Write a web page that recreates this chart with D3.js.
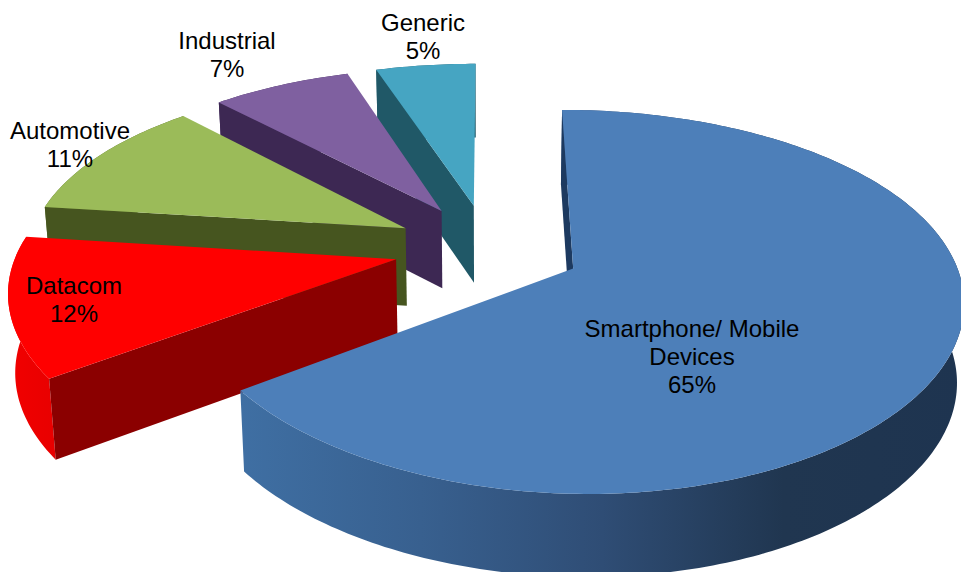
<!DOCTYPE html>
<html>
<head>
<meta charset="utf-8">
<script src="https://cdn.jsdelivr.net/npm/d3@7/dist/d3.min.js"></script>
<style>
  html, body { margin: 0; padding: 0; background: #fff; }
  svg { display: block; }
  text { font-family: "Liberation Sans", Arial, sans-serif; font-size: 24px; fill: #000; }
</style>
</head>
<body>
<svg id="chart" width="961" height="572"></svg>
<script>
// Market share by application segment
const categories = ["Smartphone/ Mobile Devices", "Datacom", "Automotive", "Industrial", "Generic"];
const shares = [65, 12, 11, 7, 5];
const labelLines = [["Smartphone/ Mobile", "Devices", "65%"], ["Datacom", "12%"], ["Automotive", "11%"], ["Industrial", "7%"], ["Generic", "5%"]];
const labelCentres = [[692, 328], [74, 285], [70, 130], [227, 40], [423, 22]];

// Face colours per segment
const topColours = ["#4d7fb9", "#ff0000", "#9bbb59", "#7f60a0", "#46a5c2"];
const edgeColours = ["#1d3a60", "#8b0000", "#46551f", "#3d2853", "#205867"];
const rimStops = [
  ["#3f6fa3", "#38608f", "#2f4d75", "#203650", "#1e3450"],
  ["#f20000", "#e80000"],
  ["#5a7029", "#4f6228"],
  ["#46305f", "#3f2a55"],
  ["#256474", "#205867"]
];

// Perspective model of the tilted disc
const origin = { x: 488, y: 248 };
const radius = 378, explode = 94, thickness = 78;
const foreshorten = 0.474, perspective = 0.00045, perspectiveX = 0.00039, converge = 0.015;

const pie = d3.pie().sort(null);
const arcs = pie(shares);

const svg = d3.select("#chart");
const defs = svg.append("defs");
const line = d3.line().x(p => p[0]).y(p => p[1]);

// Disc coordinates (u right, v toward the viewer) to screen; lower=true drops to the underside
function project(u, v, lower) {
  const s = 1 / (1 - perspective * v);
  const x = origin.x + u / (1 - perspectiveX * v);
  const y = origin.y + foreshorten * v * s;
  if (!lower) return [x, y];
  return [origin.x + (x - origin.x) * (1 - converge), y + thickness * Math.pow(s, 0.3)];
}

function rimPoints(a, lower) {
  const mid = (a.startAngle + a.endAngle) / 2;
  const ax = explode * Math.sin(mid), ay = -explode * Math.cos(mid);
  const n = Math.max(12, Math.round((a.endAngle - a.startAngle) * 60));
  return d3.range(n + 1).map(i => {
    const t = a.startAngle + (a.endAngle - a.startAngle) * i / n;
    return project(ax + radius * Math.sin(t), ay - radius * Math.cos(t), lower);
  });
}

function apexPoint(a, lower) {
  const mid = (a.startAngle + a.endAngle) / 2;
  return project(explode * Math.sin(mid), -explode * Math.cos(mid), lower);
}

// Paint back to front so the near slices overlap the far ones
const order = d3.range(arcs.length).reverse();
order.forEach(i => {
  const a = arcs[i];
  const upper = rimPoints(a, false), under = rimPoints(a, true);
  const apex = apexPoint(a, false), apexLow = apexPoint(a, true);
  const g = svg.append("g").attr("class", "slice").attr("data-name", categories[i]);

  const xs = upper.concat(under).map(p => p[0]);
  const gradId = "rim" + i;
  const grad = defs.append("linearGradient").attr("id", gradId)
    .attr("gradientUnits", "userSpaceOnUse")
    .attr("x1", d3.min(xs)).attr("x2", d3.max(xs)).attr("y1", 0).attr("y2", 0);
  rimStops[i].forEach((c, k, all) => grad.append("stop")
    .attr("offset", k / (all.length - 1)).attr("stop-color", c));

  // outer curved wall
  g.append("path")
    .attr("d", line(upper.concat(under.slice().reverse())) + "Z")
    .attr("fill", `url(#${gradId})`);

  // straight cut wall on the leading edge, the one the viewer can see
  g.append("path")
    .attr("d", line([apex, upper[0], under[0], apexLow]) + "Z")
    .attr("fill", edgeColours[i]);

  // top face
  g.append("path")
    .attr("d", line([apex].concat(upper)) + "Z")
    .attr("fill", topColours[i]);
});

// Category and percentage labels
labelLines.forEach((lines, i) => {
  const [cx, cy] = labelCentres[i];
  const t = svg.append("text").attr("text-anchor", "middle");
  lines.forEach((s, k) => t.append("tspan")
    .attr("x", cx).attr("y", cy + k * 28).attr("dy", "0.36em").text(s));
});
</script>
</body>
</html>
